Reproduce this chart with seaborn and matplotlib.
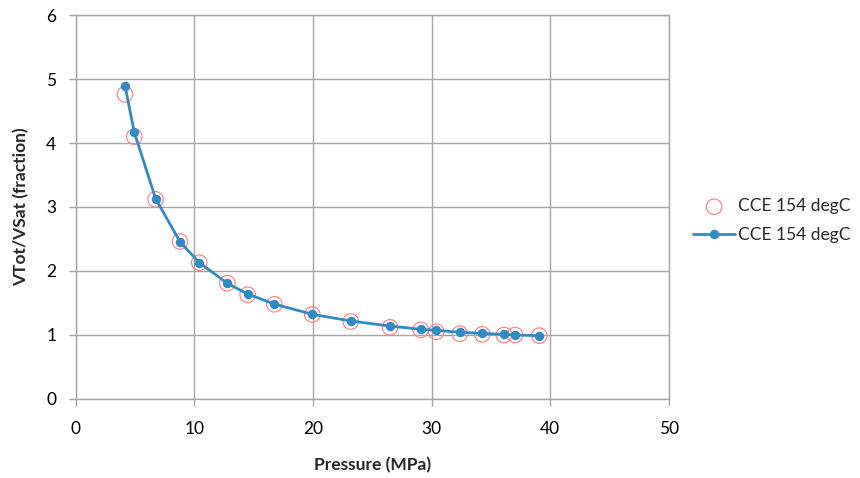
import matplotlib
matplotlib.use("Agg")
import matplotlib.pyplot as plt
import seaborn as sns
import pandas as pd

# Measured (open circles) and modelled (line with dots) relative volume data
pressure = [4.16, 4.94, 6.74, 8.79, 10.42, 12.79, 14.5, 16.75, 19.95,
            23.19, 26.5, 29.09, 30.4, 32.38, 34.28, 36.11, 37.04, 39.09]
vrel_measured = [4.76, 4.10, 3.12, 2.46, 2.13, 1.81, 1.63, 1.48, 1.32,
                 1.21, 1.12, 1.08, 1.05, 1.02, 1.01, 1.00, 1.00, 0.99]
vrel_model = [4.895, 4.167, 3.13, 2.458, 2.13, 1.807, 1.64, 1.484, 1.323,
              1.219, 1.14, 1.089, 1.073, 1.042, 1.026, 1.01, 1.00, 0.99]
series_label = "CCE 154 degC"
x_ticks = [0, 10, 20, 30, 40, 50]
y_ticks = [0, 1, 2, 3, 4, 5, 6]

df = pd.DataFrame({"p": pressure, "meas": vrel_measured, "model": vrel_model})

sns.set_theme(style="white")
plt.rcParams["font.family"] = ["Lato", "DejaVu Sans"]

grid_col = "#a6a6a6"
fig = plt.figure(figsize=(8.6, 4.78), dpi=100)
ax = fig.add_axes([0.088, 0.1653, 0.6896, 0.8033])

sns.scatterplot(data=df, x="p", y="meas", ax=ax, marker="o", s=125,
                facecolor="none", edgecolor="#ff7b7b", linewidth=0.8,
                label=series_label, zorder=3)
sns.lineplot(data=df, x="p", y="model", ax=ax, color="#2e8bc6", linewidth=2.0,
             marker="o", markersize=6.8, markeredgewidth=0, sort=False,
             label=series_label, zorder=4)

ax.set_xlim(0, 50)
ax.set_ylim(0, 6)
ax.set_xticks(x_ticks)
ax.set_yticks(y_ticks)
ax.grid(True, color=grid_col, linewidth=1.0)
ax.set_axisbelow(True)
for side, sp in ax.spines.items():
    sp.set_color(grid_col)
    sp.set_linewidth(1.0)
ax.tick_params(axis="both", which="major", direction="out", length=5,
               width=1.0, color=grid_col, labelsize=12.5, labelcolor="#000000",
               bottom=True, left=True)
ax.tick_params(axis="x", pad=11)
ax.tick_params(axis="y", pad=9)

ax.set_xlabel("Pressure (MPa)", fontsize=12.5, fontweight="bold", labelpad=14)
ax.set_ylabel("VTot/VSat (fraction)", fontsize=12.5, fontweight="bold", labelpad=12)

leg = ax.legend(loc="center left", bbox_to_anchor=(1.015, 0.464), frameon=False,
                fontsize=12.5, handlelength=2.4, handletextpad=0.2,
                labelspacing=0.75)

fig.savefig("out.png", dpi=100)
